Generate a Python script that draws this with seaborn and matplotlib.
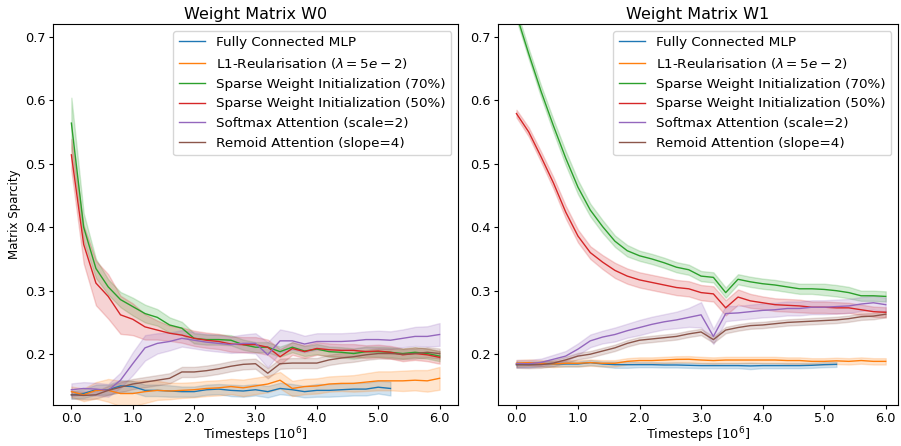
import pandas as pd
import matplotlib
matplotlib.use("Agg")
import matplotlib.pyplot as plt
import seaborn as sns
from matplotlib.ticker import FormatStrFormatter

# timesteps in millions
steps = [0.0, 0.2, 0.4, 0.6, 0.8, 1.0, 1.2, 1.4, 1.6, 1.8, 2.0, 2.2, 2.4, 2.6, 2.8,
         3.0, 3.2, 3.4, 3.6, 3.8, 4.0, 4.2, 4.4, 4.6, 4.8, 5.0, 5.2, 5.4, 5.6, 5.8, 6.0]

methods = ["Fully Connected MLP",
           r"L1-Reularisation ($\lambda = 5e-2$)",
           "Sparse Weight Initialization (70%)",
           "Sparse Weight Initialization (50%)",
           "Softmax Attention (scale=2)",
           "Remoid Attention (slope=4)"]
colors = ["#1f77b4", "#ff7f0e", "#2ca02c", "#d62728", "#9467bd", "#8c564b"]

# ---- Weight matrix W0 : mean sparsity and band half width
mlp_w0 = [0.136, 0.138, 0.144, 0.144, 0.150, 0.149, 0.143, 0.143, 0.142, 0.141, 0.141, 0.144, 0.145, 0.143,
          0.142, 0.144, 0.141, 0.146, 0.144, 0.141, 0.143, 0.143, 0.144, 0.145, 0.145, 0.148, 0.146]
l1_w0 = [0.141, 0.136, 0.143, 0.143, 0.138, 0.138, 0.141, 0.143, 0.142, 0.143, 0.144, 0.146, 0.147, 0.149, 0.147,
         0.150, 0.153, 0.159, 0.146, 0.149, 0.150, 0.153, 0.154, 0.154, 0.156, 0.158, 0.158, 0.158, 0.159, 0.158, 0.162]
sw70_w0 = [0.564, 0.400, 0.335, 0.306, 0.286, 0.275, 0.264, 0.258, 0.246, 0.241, 0.225, 0.223, 0.223, 0.222, 0.215,
           0.211, 0.211, 0.204, 0.211, 0.205, 0.208, 0.204, 0.203, 0.201, 0.204, 0.204, 0.203, 0.201, 0.203, 0.201, 0.197]
sw50_w0 = [0.514, 0.373, 0.312, 0.291, 0.262, 0.255, 0.243, 0.238, 0.233, 0.230, 0.225, 0.222, 0.220, 0.216, 0.215,
           0.215, 0.211, 0.196, 0.209, 0.204, 0.209, 0.207, 0.206, 0.206, 0.204, 0.205, 0.203, 0.199, 0.201, 0.199, 0.195]
soft_w0 = [0.144, 0.146, 0.145, 0.143, 0.159, 0.185, 0.210, 0.217, 0.220, 0.225, 0.222, 0.219, 0.217, 0.215, 0.217,
           0.217, 0.199, 0.221, 0.221, 0.216, 0.220, 0.220, 0.220, 0.221, 0.223, 0.223, 0.222, 0.225, 0.228, 0.228, 0.231]
remoid_w0 = [0.136, 0.135, 0.136, 0.143, 0.148, 0.153, 0.156, 0.159, 0.162, 0.172, 0.172, 0.174, 0.177, 0.181, 0.184,
             0.185, 0.170, 0.185, 0.186, 0.186, 0.186, 0.191, 0.194, 0.196, 0.199, 0.201, 0.201, 0.200, 0.201, 0.203, 0.201]

mlp_w0_sd = [0.006, 0.007, 0.008, 0.008, 0.009, 0.009, 0.009, 0.009, 0.009, 0.008, 0.008, 0.008, 0.008, 0.009,
             0.009, 0.009, 0.009, 0.009, 0.009, 0.009, 0.010, 0.010, 0.010, 0.010, 0.010, 0.010, 0.011]
l1_w0_sd = [0.008, 0.010, 0.013, 0.018, 0.020, 0.020, 0.018, 0.015, 0.013, 0.012, 0.012, 0.012, 0.012, 0.012, 0.013,
            0.013, 0.013, 0.013, 0.012, 0.012, 0.012, 0.012, 0.012, 0.013, 0.014, 0.015, 0.015, 0.016, 0.016, 0.017, 0.018]
sw70_w0_sd = [0.040, 0.022, 0.015, 0.012, 0.012, 0.014, 0.014, 0.013, 0.012, 0.010, 0.008, 0.008, 0.008, 0.008, 0.008,
              0.008, 0.008, 0.008, 0.008, 0.008, 0.008, 0.008, 0.008, 0.008, 0.008, 0.008, 0.008, 0.008, 0.008, 0.008, 0.008]
sw50_w0_sd = [0.025, 0.030, 0.035, 0.035, 0.030, 0.025, 0.020, 0.015, 0.012, 0.012, 0.012, 0.012, 0.012, 0.012, 0.012,
              0.012, 0.012, 0.012, 0.010, 0.010, 0.010, 0.010, 0.010, 0.010, 0.010, 0.010, 0.010, 0.010, 0.010, 0.010, 0.010]
soft_w0_sd = [0.010, 0.010, 0.010, 0.010, 0.012, 0.018, 0.020, 0.016, 0.014, 0.013, 0.013, 0.013, 0.013, 0.013, 0.014,
              0.016, 0.020, 0.018, 0.014, 0.013, 0.013, 0.013, 0.013, 0.013, 0.013, 0.014, 0.014, 0.014, 0.015, 0.016, 0.018]
remoid_w0_sd = [0.006, 0.006, 0.006, 0.007, 0.008, 0.008, 0.008, 0.008, 0.008, 0.008, 0.008, 0.008, 0.008, 0.008, 0.008,
                0.008, 0.008, 0.008, 0.008, 0.008, 0.008, 0.008, 0.008, 0.008, 0.008, 0.008, 0.008, 0.008, 0.008, 0.008, 0.008]

# ---- Weight matrix W1
mlp_w1 = [0.1835, 0.184, 0.1846, 0.1846, 0.1846, 0.1846, 0.1867, 0.1846, 0.1835, 0.1835, 0.1835, 0.1835, 0.183, 0.183,
          0.1825, 0.182, 0.182, 0.182, 0.182, 0.1815, 0.182, 0.182, 0.182, 0.182, 0.1825, 0.1835, 0.184]
l1_w1 = [0.1857, 0.1867, 0.1857, 0.1846, 0.1857, 0.1857, 0.1867, 0.1857, 0.1857, 0.1887, 0.190, 0.190, 0.1908, 0.1918,
         0.192, 0.1908, 0.190, 0.1908, 0.1908, 0.1908, 0.1908, 0.1908, 0.190, 0.190, 0.1887, 0.1887, 0.1895, 0.1887,
         0.190, 0.1887, 0.1887]
sw70_w1 = [0.735, 0.673, 0.614, 0.560, 0.509, 0.463, 0.427, 0.401, 0.378, 0.363, 0.355, 0.350, 0.344, 0.337, 0.333,
           0.323, 0.321, 0.297, 0.318, 0.314, 0.311, 0.309, 0.306, 0.303, 0.303, 0.302, 0.300, 0.297, 0.292, 0.292, 0.291]
sw50_w1 = [0.579, 0.550, 0.511, 0.470, 0.424, 0.386, 0.360, 0.345, 0.332, 0.323, 0.317, 0.313, 0.309, 0.305, 0.303,
           0.297, 0.295, 0.273, 0.290, 0.284, 0.281, 0.278, 0.277, 0.276, 0.274, 0.274, 0.273, 0.273, 0.270, 0.267, 0.266]
soft_w1 = [0.185, 0.185, 0.187, 0.192, 0.197, 0.208, 0.221, 0.227, 0.231, 0.237, 0.242, 0.247, 0.251, 0.254, 0.258,
           0.262, 0.228, 0.264, 0.265, 0.267, 0.269, 0.270, 0.272, 0.272, 0.274, 0.274, 0.275, 0.276, 0.279, 0.281, 0.278]
remoid_w1 = [0.1835, 0.183, 0.1835, 0.186, 0.191, 0.197, 0.200, 0.205, 0.210, 0.217, 0.222, 0.224, 0.226, 0.228, 0.232,
             0.235, 0.223, 0.238, 0.242, 0.245, 0.246, 0.248, 0.250, 0.251, 0.252, 0.253, 0.254, 0.256, 0.259, 0.260, 0.263]

mlp_w1_sd = [0.004, 0.004, 0.004, 0.004, 0.004, 0.004, 0.004, 0.004, 0.005, 0.005, 0.004, 0.004, 0.004, 0.004,
             0.004, 0.004, 0.004, 0.004, 0.004, 0.005, 0.004, 0.004, 0.004, 0.004, 0.004, 0.004, 0.004]
l1_w1_sd = [0.005, 0.005, 0.005, 0.005, 0.005, 0.005, 0.005, 0.005, 0.005, 0.005, 0.005, 0.005, 0.005, 0.005, 0.005,
            0.005, 0.005, 0.005, 0.005, 0.005, 0.005, 0.005, 0.005, 0.005, 0.005, 0.005, 0.005, 0.005, 0.005, 0.005, 0.005]
sw70_w1_sd = [0.008, 0.008, 0.009, 0.010, 0.011, 0.011, 0.010, 0.010, 0.009, 0.009, 0.008, 0.008, 0.008, 0.008, 0.008,
              0.008, 0.008, 0.008, 0.008, 0.008, 0.008, 0.008, 0.008, 0.008, 0.008, 0.009, 0.009, 0.009, 0.008, 0.008, 0.008]
sw50_w1_sd = [0.006, 0.007, 0.008, 0.009, 0.010, 0.010, 0.010, 0.011, 0.012, 0.012, 0.012, 0.012, 0.012, 0.012, 0.012,
              0.012, 0.012, 0.012, 0.012, 0.011, 0.010, 0.010, 0.010, 0.010, 0.009, 0.009, 0.009, 0.008, 0.008, 0.008, 0.008]
soft_w1_sd = [0.006, 0.006, 0.006, 0.007, 0.008, 0.009, 0.010, 0.010, 0.011, 0.011, 0.012, 0.012, 0.012, 0.013, 0.015,
              0.020, 0.012, 0.012, 0.011, 0.011, 0.011, 0.011, 0.011, 0.011, 0.011, 0.011, 0.011, 0.011, 0.011, 0.011, 0.011]
remoid_w1_sd = [0.005, 0.005, 0.005, 0.005, 0.005, 0.005, 0.005, 0.005, 0.005, 0.005, 0.005, 0.005, 0.005, 0.005, 0.005,
                0.005, 0.005, 0.005, 0.005, 0.005, 0.005, 0.005, 0.005, 0.005, 0.005, 0.005, 0.005, 0.005, 0.005, 0.005, 0.005]


def long_frame(means, spreads):
    # three rows per step (low, mean, high) -> seaborn draws mean line and min/max band
    rows = []
    for name, m, s in zip(methods, means, spreads):
        for t, mu, sd in zip(steps, m, s):
            for v in (mu - sd, mu, mu + sd):
                rows.append((t, v, name))
    return pd.DataFrame(rows, columns=["step", "sparsity", "method"])


df_w0 = long_frame([mlp_w0, l1_w0, sw70_w0, sw50_w0, soft_w0, remoid_w0],
                   [mlp_w0_sd, l1_w0_sd, sw70_w0_sd, sw50_w0_sd, soft_w0_sd, remoid_w0_sd])
df_w1 = long_frame([mlp_w1, l1_w1, sw70_w1, sw50_w1, soft_w1, remoid_w1],
                   [mlp_w1_sd, l1_w1_sd, sw70_w1_sd, sw50_w1_sd, soft_w1_sd, remoid_w1_sd])

fig = plt.figure(figsize=(9.01, 4.46), dpi=100)
ax0 = fig.add_axes([0.0588, 0.092, 0.4495, 0.854])
ax1 = fig.add_axes([0.5527, 0.092, 0.4440, 0.854])

for ax, df, title, xmax in [(ax0, df_w0, "Weight Matrix W0", 6.3), (ax1, df_w1, "Weight Matrix W1", 6.2)]:
    sns.lineplot(data=df, x="step", y="sparsity", hue="method", hue_order=methods,
                 palette=colors, estimator="mean", errorbar=lambda v: (v.min(), v.max()),
                 linewidth=1.0, ax=ax)
    sns.move_legend(ax, "upper right", title=None, fontsize=9.7)
    ax.set_title(title, fontsize=11.5, pad=4)
    ax.set_xlabel("Timesteps [$10^6$]", fontsize=9.3, labelpad=0)
    ax.set_ylabel("")
    ax.set_xlim(-0.3, xmax)
    ax.set_ylim(0.12, 0.72)
    ax.set_xticks([0, 1, 2, 3, 4, 5, 6])
    ax.xaxis.set_major_formatter(FormatStrFormatter("%.1f"))
    ax.tick_params(labelsize=9.3, length=3, pad=2)

ax0.set_ylabel("Matrix Sparcity", fontsize=8.5, labelpad=3)

fig.savefig("out.png", dpi=100)
